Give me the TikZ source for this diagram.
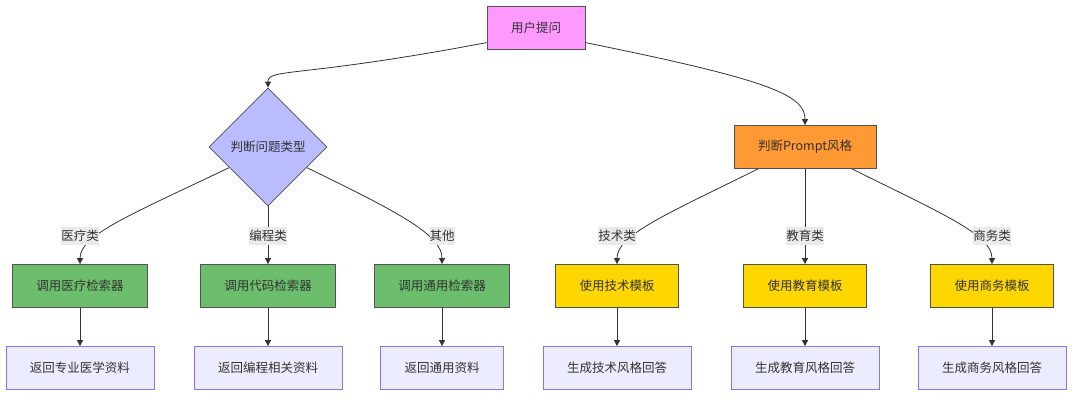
\documentclass[tikz,border=0pt]{standalone}
\usepackage{fontspec}
\setmainfont{Noto Sans CJK SC}
\usepackage{tikz}
\usetikzlibrary{shapes.geometric, arrows.meta}
\definecolor{askpink}{RGB}{255,153,255}
\definecolor{judgeblue}{RGB}{187,187,255}
\definecolor{pickorange}{RGB}{255,153,51}
\definecolor{retrgreen}{RGB}{108,190,108}
\definecolor{tmplgold}{RGB}{255,215,0}
\definecolor{leaflav}{RGB}{236,236,255}
\definecolor{leafedge}{RGB}{147,112,219}
\definecolor{inkgray}{RGB}{51,51,51}
\definecolor{taggray}{RGB}{234,234,234}

\begin{document}
\begin{tikzpicture}[
  x=1pt, y=-1pt,
  every node/.style={font=\fontsize{12.5}{15}\selectfont, text=inkgray},
  box/.style={rectangle, draw=inkgray!85, line width=0.8pt, minimum height=43pt, inner xsep=24pt, inner ysep=0pt},
  ask/.style={box, fill=askpink},
  judge/.style={diamond, draw=inkgray!85, fill=judgeblue, line width=0.8pt, minimum width=118pt, minimum height=118pt, inner sep=0pt},
  pick/.style={box, fill=pickorange},
  retr/.style={box, fill=retrgreen},
  tmpl/.style={box, fill=tmplgold},
  leaf/.style={box, draw=leafedge, fill=leaflav},
  tag/.style={fill=taggray, inner xsep=0pt, inner ysep=2pt, minimum height=18pt},
  link/.style={draw=inkgray, line width=0.8pt, -{Triangle[length=6pt, width=6pt]}}
]
  \useasboundingbox (0,0) rectangle (1080,399);

  % top and the two deciders
  \node[ask] (q) at (536, 27.5) {用户提问};
  \node[judge] (d) at (268, 147) {判断问题类型};
  \node[pick] (p) at (805, 147) {判断Prompt风格};

  % retrievers and templates
  \node[retr] (g1) at (80, 286) {调用医疗检索器};
  \node[retr] (g2) at (268, 286) {调用代码检索器};
  \node[retr] (g3) at (442, 286) {调用通用检索器};
  \node[tmpl] (t1) at (617, 286) {使用技术模板};
  \node[tmpl] (t2) at (805, 286) {使用教育模板};
  \node[tmpl] (t3) at (992, 286) {使用商务模板};

  % results
  \node[leaf] (r1) at (80, 368) {返回专业医学资料};
  \node[leaf] (r2) at (268, 368) {返回编程相关资料};
  \node[leaf] (r3) at (442, 368) {返回通用资料};
  \node[leaf] (r4) at (617, 368) {生成技术风格回答};
  \node[leaf] (r5) at (805, 368) {生成教育风格回答};
  \node[leaf] (r6) at (992, 368) {生成商务风格回答};

  \draw[link] (q.197) .. controls (300,78) and (268,68) .. (d.north);
  \draw[link] (q.-17) .. controls (770,80) and (805,95) .. (p.north);

  \draw[link] (d.208) .. controls (130,215) and (80,235) .. (g1.north);
  \draw[link] (d.south) -- (g2.north);
  \draw[link] (d.-28) .. controls (400,213) and (442,235) .. (g3.north);
  \draw[link] (p.205) .. controls (665,215) and (617,235) .. (t1.north);
  \draw[link] (p.south) -- (t2.north);
  \draw[link] (p.-25) .. controls (945,215) and (992,235) .. (t3.north);

  \draw[link] (g1) -- (r1);
  \draw[link] (g2) -- (r2);
  \draw[link] (g3) -- (r3);
  \draw[link] (t1) -- (r4);
  \draw[link] (t2) -- (r5);
  \draw[link] (t3) -- (r6);

  % edge labels
  \node[tag] (l1) at (80, 236) {医疗类};
  \node[tag] (l2) at (268, 236) {编程类};
  \node[tag] (l3) at (442, 236) {其他};
  \node[tag] (l4) at (617, 236) {技术类};
  \node[tag] (l5) at (805, 236) {教育类};
  \node[tag] (l6) at (992, 236) {商务类};
\end{tikzpicture}
\end{document}
